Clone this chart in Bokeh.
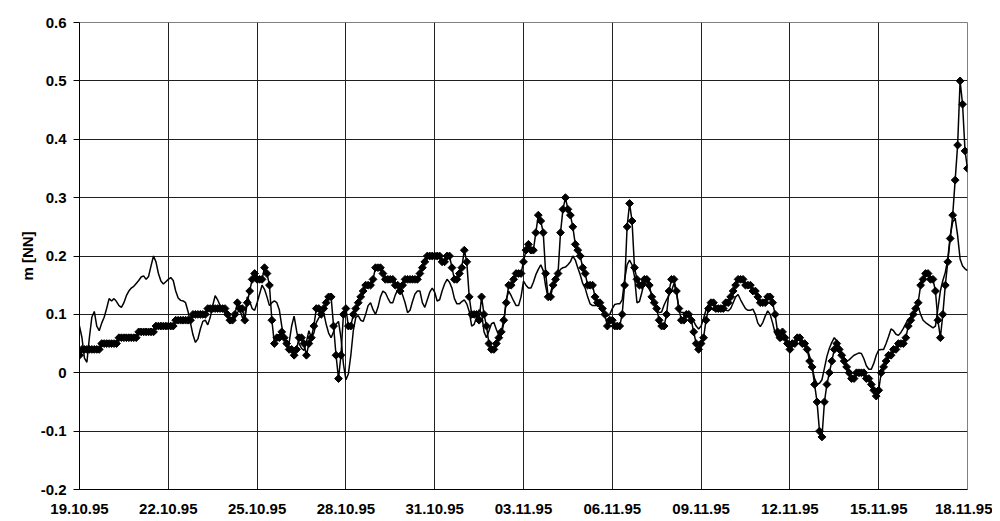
import math
import pandas as pd
from bokeh.plotting import figure
from bokeh.models import Range1d, FixedTicker, DatetimeTickFormatter, ColumnDataSource
from bokeh.embed import file_html
from bokeh.resources import INLINE

# ---- data (2-hourly samples, 19.10.1995 00:00 .. 18.11.1995 00:00) ----
start_date = "1995-10-19"
step = "2h"

measured = [
    0.03,0.04,0.04,0.04,0.04,0.04,0.04,0.04,0.04,0.05,0.05,0.05,
    0.05,0.05,0.05,0.05,0.06,0.06,0.06,0.06,0.06,0.06,0.06,0.06,
    0.07,0.07,0.07,0.07,0.07,0.07,0.07,0.08,0.08,0.08,0.08,0.08,
    0.08,0.08,0.08,0.09,0.09,0.09,0.09,0.09,0.09,0.09,0.10,0.10,
    0.10,0.10,0.10,0.10,0.11,0.11,0.11,0.11,0.11,0.11,0.11,0.11,
    0.10,0.09,0.09,0.10,0.12,0.11,0.11,0.09,0.12,0.14,0.16,0.17,
    0.16,0.16,0.16,0.18,0.17,0.15,0.09,0.05,0.06,0.06,0.07,0.06,
    0.05,0.04,0.04,0.03,0.04,0.06,0.06,0.05,0.03,0.05,0.06,0.08,
    0.11,0.11,0.10,0.11,0.12,0.13,0.13,0.08,0.03,-0.01,0.03,0.10,
    0.11,0.08,0.08,0.10,0.11,0.12,0.13,0.14,0.15,0.15,0.15,0.16,
    0.18,0.18,0.18,0.17,0.16,0.16,0.16,0.16,0.15,0.15,0.14,0.15,
    0.16,0.16,0.16,0.16,0.16,0.16,0.17,0.18,0.19,0.20,0.20,0.20,
    0.20,0.20,0.20,0.19,0.19,0.20,0.20,0.18,0.16,0.16,0.17,0.18,
    0.21,0.19,0.13,0.10,0.10,0.10,0.09,0.13,0.10,0.08,0.05,0.04,
    0.04,0.05,0.06,0.07,0.09,0.12,0.15,0.15,0.16,0.17,0.17,0.17,
    0.19,0.21,0.22,0.21,0.21,0.24,0.27,0.26,0.24,0.17,0.13,0.13,
    0.15,0.16,0.17,0.24,0.28,0.30,0.28,0.27,0.25,0.22,0.21,0.20,
    0.18,0.17,0.15,0.15,0.15,0.13,0.12,0.12,0.11,0.10,0.08,0.09,
    0.09,0.08,0.08,0.08,0.10,0.15,0.25,0.29,0.26,0.18,0.16,0.15,
    0.15,0.16,0.16,0.15,0.13,0.12,0.11,0.09,0.08,0.08,0.10,0.14,
    0.16,0.16,0.14,0.11,0.09,0.09,0.10,0.10,0.09,0.07,0.05,0.04,
    0.05,0.06,0.09,0.11,0.12,0.12,0.11,0.11,0.11,0.11,0.12,0.12,
    0.13,0.14,0.15,0.16,0.16,0.16,0.15,0.15,0.15,0.14,0.14,0.13,
    0.12,0.12,0.12,0.13,0.13,0.12,0.10,0.07,0.06,0.07,0.06,0.05,
    0.04,0.05,0.05,0.06,0.06,0.05,0.05,0.04,0.02,0.01,-0.02,-0.05,
    -0.10,-0.11,-0.05,-0.02,0.00,0.02,0.04,0.05,0.04,0.03,0.02,0.01,
    0.00,-0.01,-0.01,0.00,0.00,0.00,0.00,-0.01,-0.01,-0.02,-0.03,-0.04,
    -0.03,0.00,0.01,0.02,0.03,0.03,0.04,0.04,0.05,0.05,0.05,0.06,
    0.08,0.09,0.10,0.11,0.12,0.15,0.16,0.17,0.17,0.16,0.16,0.14,
    0.09,0.06,0.10,0.15,0.19,0.23,0.27,0.33,0.39,0.50,0.46,0.38,
    0.35,
]

computed = [
    0.080,0.060,0.025,0.018,0.060,0.095,0.105,0.080,0.072,0.085,0.095,0.110,
    0.127,0.123,0.127,0.122,0.115,0.112,0.120,0.132,0.140,0.145,0.148,0.153,
    0.158,0.164,0.166,0.160,0.165,0.183,0.200,0.190,0.170,0.157,0.152,0.156,
    0.160,0.163,0.158,0.140,0.128,0.124,0.123,0.120,0.105,0.085,0.065,0.052,
    0.058,0.075,0.088,0.090,0.082,0.095,0.115,0.132,0.125,0.115,0.106,0.103,
    0.098,0.090,0.088,0.093,0.103,0.108,0.095,0.095,0.130,0.122,0.110,0.107,
    0.120,0.135,0.150,0.143,0.130,0.115,0.120,0.123,0.120,0.108,0.080,0.055,
    0.045,0.052,0.080,0.097,0.072,0.050,0.042,0.038,0.053,0.072,0.060,0.068,
    0.086,0.094,0.100,0.103,0.083,0.068,0.060,0.070,0.083,0.088,0.060,0.015,
    -0.012,-0.002,0.030,0.072,0.095,0.098,0.090,0.088,0.100,0.115,0.120,0.108,
    0.100,0.112,0.130,0.140,0.137,0.128,0.120,0.120,0.133,0.142,0.143,0.133,
    0.120,0.103,0.107,0.122,0.135,0.140,0.140,0.120,0.112,0.125,0.138,0.145,
    0.138,0.123,0.125,0.140,0.152,0.160,0.155,0.145,0.127,0.118,0.118,0.122,
    0.125,0.118,0.105,0.080,0.083,0.095,0.108,0.102,0.070,0.060,0.072,0.084,
    0.086,0.074,0.064,0.065,0.085,0.125,0.140,0.132,0.123,0.115,0.115,0.130,
    0.157,0.150,0.145,0.145,0.155,0.168,0.177,0.185,0.175,0.148,0.128,0.138,
    0.152,0.163,0.170,0.177,0.180,0.181,0.185,0.190,0.200,0.193,0.180,0.168,
    0.153,0.145,0.130,0.118,0.115,0.115,0.115,0.112,0.107,0.100,0.097,0.100,
    0.110,0.117,0.118,0.118,0.125,0.160,0.185,0.193,0.185,0.165,0.120,0.122,
    0.138,0.155,0.150,0.143,0.135,0.119,0.108,0.103,0.104,0.116,0.125,0.133,
    0.140,0.153,0.138,0.108,0.103,0.103,0.101,0.099,0.093,0.088,0.080,0.075,
    0.080,0.093,0.108,0.117,0.112,0.107,0.106,0.106,0.107,0.108,0.107,0.106,
    0.110,0.120,0.130,0.134,0.125,0.117,0.110,0.107,0.107,0.109,0.100,0.085,
    0.079,0.086,0.097,0.106,0.100,0.085,0.068,0.060,0.055,0.057,0.057,0.050,
    0.045,0.050,0.056,0.062,0.060,0.056,0.050,0.042,0.028,0.010,-0.010,-0.019,
    -0.018,-0.012,0.008,0.028,0.042,0.052,0.060,0.055,0.045,0.032,0.024,0.020,
    0.022,0.026,0.030,0.032,0.034,0.033,0.024,0.012,0.006,0.006,0.016,0.030,
    0.039,0.040,0.040,0.050,0.062,0.075,0.072,0.066,0.064,0.069,0.076,0.084,
    0.092,0.095,0.100,0.107,0.113,0.100,0.090,0.086,0.083,0.080,0.077,0.080,
    0.110,0.140,0.158,0.172,0.195,0.235,0.258,0.265,0.235,0.195,0.183,0.178,
    0.175,
]

x_tick_dates = ["1995-10-19", "1995-10-22", "1995-10-25", "1995-10-28", "1995-10-31",
                "1995-11-03", "1995-11-06", "1995-11-09", "1995-11-12", "1995-11-15",
                "1995-11-18"]
y_ticks = [-0.2, -0.1, 0, 0.1, 0.2, 0.3, 0.4, 0.5, 0.6]
y_tick_labels = ["-0.2", "-0.1", "0", "0.1", "0.2", "0.3", "0.4", "0.5", "0.6"]
y_label = "m [NN]"

# ---- figure ----
times = pd.date_range(start_date, periods=len(measured), freq=step)
src = ColumnDataSource(dict(t=times, measured=measured, computed=computed))

FONT = "Liberation Sans"
p = figure(width=992, height=521, x_axis_type="datetime",
           output_backend="svg", toolbar_location=None,
           min_border_left=79, min_border_right=25,
           min_border_top=22, min_border_bottom=32)
p.x_range = Range1d(pd.Timestamp(x_tick_dates[0]), pd.Timestamp(x_tick_dates[-1]))
p.y_range = Range1d(-0.2, 0.6)
p.background_fill_color = "white"
p.border_fill_color = "white"
p.outline_line_color = "#808080"
p.outline_line_width = 1

tick_ms = [pd.Timestamp(d).value // 10**6 for d in x_tick_dates]
p.xaxis.ticker = FixedTicker(ticks=tick_ms)
fmt = "%d.%m.%y"
p.xaxis.formatter = DatetimeTickFormatter(
    microseconds=fmt, milliseconds=fmt, seconds=fmt, minsec=fmt, minutes=fmt,
    hourmin=fmt, hours=fmt, days=fmt, months=fmt, years=fmt, context=None)
p.yaxis.ticker = FixedTicker(ticks=y_ticks)
p.yaxis.major_label_overrides = {v: s for v, s in zip(y_ticks, y_tick_labels)}

for ax in (p.xaxis[0], p.yaxis[0]):
    ax.major_label_text_font = FONT
    ax.major_label_text_font_style = "bold"
    ax.major_label_text_font_size = "15px"
    ax.major_label_text_color = "black"
    ax.axis_line_color = "black"
    ax.axis_line_width = 1
    ax.minor_tick_line_color = None
    ax.major_tick_in = 0

p.xaxis.major_tick_out = 0
p.xaxis.major_label_standoff = 14
p.yaxis.major_tick_out = 6
p.yaxis.major_tick_line_color = "black"
p.yaxis.major_label_standoff = 7
p.yaxis.axis_label = y_label
p.yaxis.axis_label_text_font = FONT
p.yaxis.axis_label_text_font_style = "bold"
p.yaxis.axis_label_text_font_size = "15px"
p.yaxis.axis_label_text_color = "black"
p.yaxis.axis_label_standoff = 2

p.xgrid.grid_line_color = "#202020"
p.ygrid.grid_line_color = "#202020"
p.xgrid.grid_line_width = 1
p.ygrid.grid_line_width = 1

p.line("t", "computed", source=src, line_color="black", line_width=1.5)
p.line("t", "measured", source=src, line_color="black", line_width=1.5)
p.scatter("t", "measured", source=src, marker="square", angle=math.pi / 4, size=5.5,
          fill_color="black", line_color="black", line_width=1)

open("out.html", "w").write(file_html(p, INLINE))
